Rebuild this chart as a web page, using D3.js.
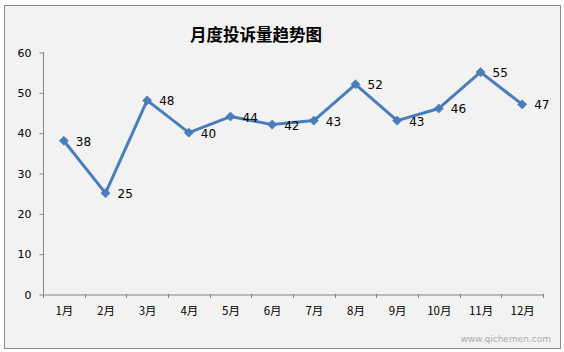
<!DOCTYPE html>
<html><head><meta charset="utf-8">
<script src="https://cdn.jsdelivr.net/npm/d3@7/dist/d3.min.js"></script>
<style>body{margin:0;background:#fff}svg{display:block}</style>
</head><body><svg id="c" width="564" height="352"></svg>
<script>
const title = "月度投诉量趋势图";
const months = ["1月","2月","3月","4月","5月","6月","7月","8月","9月","10月","11月","12月"];
const complaints = [38,25,48,40,44,42,43,52,43,46,55,47];
const yTicks = [0,10,20,30,40,50,60];

const svg = d3.select("#c");
svg.append("rect").attr("x",4.5).attr("y",5.5).attr("width",556).attr("height",343)
  .attr("fill","#f2f2f2").attr("stroke","#8c8c8c").attr("stroke-width",1);

const x = d3.scaleBand().domain(months).range([43,543]);
const y = d3.scaleLinear().domain([0,60]).range([294,52]);

const font = "Verdana, 'DejaVu Sans', sans-serif";
const axisColor = "#868686";

const ya = svg.append("g").attr("transform","translate(43.5,0.5)")
  .call(d3.axisLeft(y).tickValues(yTicks).tickSize(4).tickPadding(8));
const xa = svg.append("g").attr("transform","translate(0.5,294.5)")
  .call(d3.axisBottom(x).tickSize(0).tickPadding(12));
[ya,xa].forEach(g=>{
  g.selectAll("path").attr("stroke",axisColor);
  g.selectAll("line").attr("stroke",axisColor);
  g.selectAll("text").attr("fill","#000").style("font-family",font).style("font-size","11px");
});
ya.select("path").attr("d","M0,-0.5V"+(294-52+0.5)).attr("transform","translate(0,52)");
xa.selectAll("text").style("font-family","'Noto Sans CJK SC', sans-serif").style("font-size","11.5px");
const bounds = months.map(m=>x(m)).concat([x.range()[1]]);
svg.append("g").selectAll("line").data(bounds).join("line")
  .attr("x1",d=>Math.round(d)+0.5).attr("x2",d=>Math.round(d)+0.5)
  .attr("y1",294).attr("y2",298).attr("stroke",axisColor);

const cx = d=>x(d)+x.bandwidth()/2;
const line = d3.line().x((d,i)=>cx(months[i])).y(d=>y(d));
svg.append("path").datum(complaints).attr("d",line)
  .attr("fill","none").attr("stroke","#4a7ebb").attr("stroke-width",3).attr("stroke-linejoin","round");
svg.append("g").selectAll("path").data(complaints).join("path")
  .attr("d",d3.symbol().type(d3.symbolSquare).size(42))
  .attr("transform",(d,i)=>`translate(${cx(months[i])},${y(d)}) rotate(45)`)
  .attr("fill","#4a7ebb").attr("stroke","#3f6fa8").attr("stroke-width",0.5);
svg.append("g").selectAll("text").data(complaints).join("text")
  .attr("x",(d,i)=>cx(months[i])+12).attr("y",d=>y(d)+5)
  .text(d=>d).style("font-family",font).style("font-size","12px").attr("fill","#000");

svg.append("text").attr("x",256).attr("y",41).attr("text-anchor","middle")
  .text(title).style("font-family","'Noto Sans CJK SC', sans-serif").style("font-weight","bold")
  .style("font-size","16.5px").attr("fill","#000");

svg.append("text").attr("x",551).attr("y",342).attr("text-anchor","end")
  .text("www.qichemen.com").style("font-family",font).style("font-size","9px").attr("fill","#9a9a9a").attr("opacity",0.8);
</script></body></html>
